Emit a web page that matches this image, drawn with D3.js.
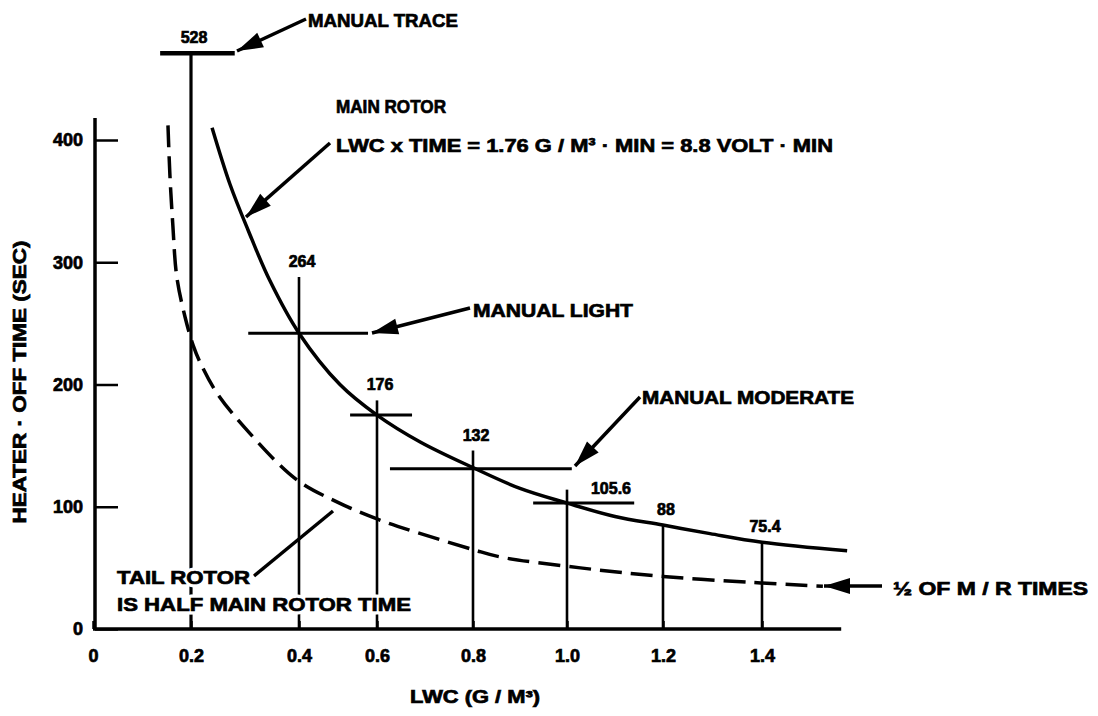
<!DOCTYPE html>
<html>
<head>
<meta charset="utf-8">
<script src="https://cdn.jsdelivr.net/npm/d3@7"></script>
<style>
  body { margin: 0; background: #fff; }
  text { font-family: "Liberation Sans", Arial, sans-serif; font-weight: bold; fill: #000; }
  .heavy { stroke: #000; stroke-width: 0.7px; }
  .halo { stroke: #fff; stroke-width: 7px; stroke-linejoin: round; }
</style>
</head>
<body>
<div id="chart"></div>
<script>
// ---- data ----
var tickX = [0, 0.2, 0.4, 0.6, 0.8, 1.0, 1.2, 1.4];
var tickXLabels = ["0", "0.2", "0.4", "0.6", "0.8", "1.0", "1.2", "1.4"];
var tickY = [0, 100, 200, 300, 400];

// main rotor curve (LWC, seconds)
var mainLwc  = [0.239, 0.272, 0.306, 0.346, 0.4, 0.505, 0.6, 0.69, 0.8, 0.9, 1.0, 1.1, 1.2, 1.295, 1.4, 1.572];
var mainTime = [410, 364, 326, 285, 242, 200, 175, 153, 132, 115, 103, 92, 85, 78, 71, 64];

// tail rotor curve, half of main rotor (dashed)
var tailLwc  = [0.153, 0.157, 0.163, 0.171, 0.188, 0.204, 0.217, 0.248, 0.309, 0.396, 0.497, 0.6, 0.683, 0.8, 0.857, 1.028, 1.2, 1.382, 1.523];
var tailTime = [412, 371, 330, 288, 255, 232, 218, 193, 160, 122, 104, 90, 79, 65, 59, 50, 43, 38, 35];

// vertical markers with their labelled times
var markLwc    = [0.2, 0.4, 0.6, 0.8, 1.0, 1.2, 1.4];
var markTop    = [471, 288, 187, 146, 114, 85, 71];
var markLabels = ["528", "264", "176", "132", "105.6", "88", "75.4"];

// horizontal bars (manual trace / light / moderate and crosshairs)
var barLevel = [471, 242, 175, 131, 103];
var barFrom  = [0.137, 0.306, 0.531, 0.627, 0.928];
var barTo    = [0.281, 0.577, 0.673, 1.01, 1.14];

// ---- layout ----
var width = 1098, height = 716;

var svg = d3.select("#chart")
    .append("svg")
    .attr("width", width)
    .attr("height", height);

// the scan's x axis is not evenly spaced, so use a piecewise scale
var x = d3.scaleLinear()
    .domain(tickX)
    .range([93, 191, 299, 377, 473, 567, 663, 762]);

var y = d3.scaleLinear()
    .domain([0, 400])
    .range([629, 140]);

// axes
var xAxis = svg.append("g")
    .attr("transform", "translate(0," + y(0) + ")")
    .call(d3.axisBottom(x)
        .tickValues(tickX)
        .tickSize(-8)
        .tickPadding(20)
        .tickFormat(function(d, i) { return tickXLabels[i]; }));
xAxis.select(".domain").remove();
xAxis.selectAll("line").attr("stroke", "#000").attr("stroke-width", 2.5);
xAxis.selectAll("text").attr("class", "heavy").style("font-size", "18px").attr("fill", "#000");

var yAxis = svg.append("g")
    .attr("transform", "translate(95,0)")
    .call(d3.axisLeft(y)
        .tickValues(tickY)
        .tickSize(-23)
        .tickPadding(12));
yAxis.select(".domain").remove();
yAxis.selectAll("line").attr("stroke", "#000").attr("stroke-width", 2.5);
yAxis.selectAll("text").attr("class", "heavy").style("font-size", "18px").attr("fill", "#000");

// axis lines
svg.append("line")
    .attr("x1", x(0)).attr("x2", x(1.56))
    .attr("y1", y(0)).attr("y2", y(0))
    .attr("stroke", "#000").attr("stroke-width", 3.5);
svg.append("line")
    .attr("x1", 95).attr("x2", 95)
    .attr("y1", y(0)).attr("y2", y(418))
    .attr("stroke", "#000").attr("stroke-width", 3.5);

// vertical marker lines
svg.selectAll(".mark")
    .data(markLwc)
    .enter()
    .append("line")
    .attr("x1", function(d) { return x(d); })
    .attr("x2", function(d) { return x(d); })
    .attr("y1", y(0))
    .attr("y2", function(d, i) { return y(markTop[i]); })
    .attr("stroke", "#000")
    .attr("stroke-width", function(d, i) { return i == 0 ? 3.2 : 2.6; });

// horizontal bars
svg.selectAll(".bar")
    .data(barLevel)
    .enter()
    .append("line")
    .attr("x1", function(d, i) { return x(barFrom[i]); })
    .attr("x2", function(d, i) { return x(barTo[i]); })
    .attr("y1", function(d) { return y(d); })
    .attr("y2", function(d) { return y(d); })
    .attr("stroke", "#000")
    .attr("stroke-width", function(d, i) { return i == 0 ? 4.5 : 3; });

// marker labels
svg.selectAll(".markLabel")
    .data(markLabels)
    .enter()
    .append("text")
    .attr("class", "heavy")
    .attr("x", function(d, i) { return x(markLwc[i]) + (d === "105.6" ? 44 : 3); })
    .attr("y", function(d, i) {
        var top = d === "105.6" ? y(barLevel[4]) + 1 : y(markTop[i]);
        return top - 16 + 6;
    })
    .attr("text-anchor", "middle")
    .style("font-size", "16px")
    .text(function(d) { return d; });

// curves
var line = d3.line()
    .x(function(d) { return x(d[0]); })
    .y(function(d) { return y(d[1]); })
    .curve(d3.curveCatmullRom.alpha(0.5));

svg.append("path")
    .attr("d", line(d3.zip(mainLwc, mainTime)))
    .attr("fill", "none")
    .attr("stroke", "#000")
    .attr("stroke-width", 3.5);

svg.append("path")
    .attr("d", line(d3.zip(tailLwc, tailTime)))
    .attr("fill", "none")
    .attr("stroke", "#000")
    .attr("stroke-width", 3.5)
    .attr("stroke-dasharray", "22,9");

// ---- annotations ----
function arrow(x1, y1, x2, y2, withHead) {
    svg.append("line")
        .attr("x1", x1).attr("y1", y1).attr("x2", x2).attr("y2", y2)
        .attr("stroke", "#000").attr("stroke-width", 3.5);
    if (!withHead) return;
    var a = Math.atan2(y1 - y2, x1 - x2), len = 26, w = 8;
    var bx = x2 + len * Math.cos(a), by = y2 + len * Math.sin(a);
    var px = -Math.sin(a) * w, py = Math.cos(a) * w;
    svg.append("path")
        .attr("d", "M" + x2 + "," + y2 + "L" + (bx + px) + "," + (by + py) +
                   "L" + (bx - px) + "," + (by - py) + "Z")
        .attr("fill", "#000");
}

function label(txt, x0, yc, w, size, halo) {
    var layers = halo ? ["halo", "heavy"] : ["heavy"];
    layers.forEach(function(cls) {
        svg.append("text")
            .attr("class", cls)
            .attr("x", x0)
            .attr("y", yc + size * 0.36)
            .style("font-size", size + "px")
            .attr("textLength", w)
            .attr("lengthAdjust", "spacingAndGlyphs")
            .text(txt);
    });
}

arrow(306, 19, 237, 51, true);
label("MANUAL TRACE", 308, 20, 150, 19);

label("MAIN ROTOR", 336, 106, 110, 19);
arrow(330, 143, 246, 217, true);
label("LWC x TIME  = 1.76 G / M³ · MIN = 8.8 VOLT · MIN", 336, 145, 497, 19);

arrow(470, 308, 372, 333, true);
label("MANUAL LIGHT", 473, 310, 160, 19);

arrow(640, 397, 575, 466, true);
label("MANUAL MODERATE", 642, 397, 212, 19);

arrow(254, 576, 333, 511, false);
label("TAIL ROTOR", 117, 577, 133, 19, true);
label("IS HALF MAIN ROTOR TIME", 117, 604, 294, 19, true);

arrow(882, 586, 824, 586, true);
label("½ OF M / R TIMES", 893, 588, 195, 19);

label("LWC (G / M³)", 410, 697, 130, 18);

svg.append("text")
    .attr("class", "heavy")
    .attr("transform", "translate(26,382) rotate(-90)")
    .attr("text-anchor", "middle")
    .style("font-size", "18px")
    .attr("textLength", 283)
    .attr("lengthAdjust", "spacingAndGlyphs")
    .text("HEATER · OFF TIME (SEC)");
</script>
</body>
</html>
